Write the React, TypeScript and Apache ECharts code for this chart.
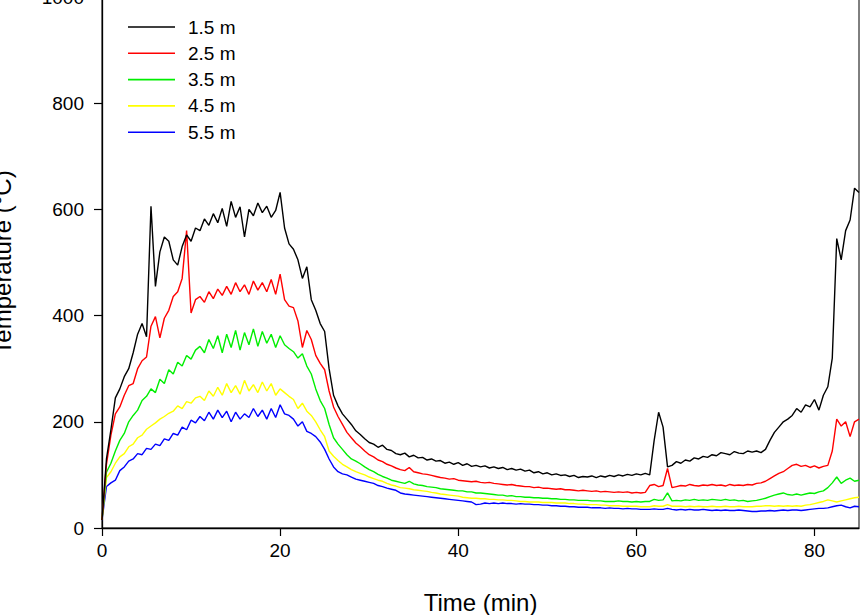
import React, { useEffect, useRef } from "react";
import * as echarts from "echarts";

// Sampling grid of the recorded time (min)
const timeStep = 0.5;

const seriesNames = ["1.5 m", "2.5 m", "3.5 m", "4.5 m", "5.5 m"];
const seriesColors = ["#000000", "#ff0000", "#00ee00", "#ffff00", "#0000ff"];

const xTickValues = [0, 20, 40, 60, 80];
const yTickValues = [0, 200, 400, 600, 800, 1000];

// Temperatures (°C), one value every 0.5 min from 0 to 85 min (20 values per row = 10 min)
const temp15 = [
  15, 130, 185, 245, 262, 285, 300, 330, 365, 385, 360, 606, 455, 520, 548, 540, 505, 495, 530, 552,
  540, 565, 560, 582, 570, 592, 575, 602, 568, 615, 585, 605, 548, 600, 588, 612, 594, 606, 585, 598,
  632, 565, 535, 525, 505, 470, 492, 430, 410, 385, 370, 300, 250, 230, 215, 205, 195, 183, 176, 168,
  161, 158, 152, 156, 148, 146, 140, 138, 141, 134, 137, 132, 133, 128, 130, 126, 127, 122, 124, 120,
  123, 118, 121, 116, 118, 115, 117, 113, 115, 112, 114, 110, 112, 109, 111, 107, 109, 104, 106, 102,
  104, 100, 102, 99, 100, 97, 99, 95, 97, 96, 98, 95, 98, 96, 99, 97, 100, 98, 101, 99,
  102, 100, 103, 100, 165, 218, 190, 115, 118, 125, 122, 128, 126, 132, 130, 135, 133, 138, 136, 142,
  140, 138, 144, 141, 140, 145, 143, 145, 142, 148, 165, 180, 190, 200, 205, 212, 225, 218, 232, 228,
  242, 222, 250, 266, 320, 545, 505, 560, 580, 640, 632,
];

const temp25 = [
  15, 120, 175, 215, 228, 250, 268, 272, 300, 315, 322, 380, 398, 358, 395, 410, 436, 445, 470, 560,
  405, 430, 436, 425, 445, 432, 450, 438, 455, 440, 462, 445, 458, 440, 465, 448, 462, 445, 468, 440,
  478, 430, 418, 415, 390, 340, 372, 355, 325, 310, 298, 258, 228, 210, 195, 180, 170, 160, 153, 145,
  138, 134, 128, 125, 120, 117, 113, 110, 108, 114, 106, 104, 102, 101, 99, 97, 95, 94, 92, 93,
  90, 89, 88, 87, 88, 86, 85, 86, 84, 83, 82, 81, 82, 80, 79, 78, 78, 76, 77, 75,
  75, 74, 73, 74, 72, 72, 71, 70, 71, 70, 69, 70, 68, 69, 68, 67, 68, 67, 68, 66,
  67, 66, 67, 80, 82, 78, 80, 112, 76, 78, 80, 79, 82, 80, 79, 81, 80, 82, 80, 81,
  79, 82, 80, 81, 80, 82, 81, 84, 85, 88, 93, 98, 103, 106, 112, 118, 120, 116, 118, 114,
  117, 113, 116, 118, 145, 205, 192, 200, 172, 200, 205,
];

const temp35 = [
  15, 105, 122, 145, 165, 178, 200, 212, 222, 240, 248, 262, 255, 280, 272, 298, 290, 312, 305, 325,
  318, 335, 342, 330, 355, 338, 362, 330, 365, 340, 372, 335, 368, 345, 375, 342, 370, 348, 365, 340,
  362, 345, 338, 332, 320, 328, 305, 290, 262, 240, 225, 195, 170, 158, 148, 138, 130, 126, 121, 115,
  110, 106, 101, 97, 94, 90, 88, 86, 84, 88, 83, 81, 80, 78, 77, 76, 74, 73, 72, 71,
  70, 70, 68, 68, 66, 66, 65, 64, 63, 62, 62, 60, 61, 59, 59, 58, 58, 57, 57, 56,
  56, 55, 55, 54, 54, 53, 53, 52, 52, 52, 51, 51, 51, 50, 50, 50, 51, 50, 50, 49,
  50, 49, 50, 50, 54, 52, 53, 66, 51, 52, 51, 53, 52, 54, 52, 53, 52, 54, 53, 52,
  54, 52, 53, 51, 52, 50, 51, 52, 54, 56, 59, 62, 64, 66, 63, 62, 64, 62, 64, 66,
  65, 68, 70, 76, 85, 96, 84, 90, 94, 88, 90,
];

const temp45 = [
  15, 95, 106, 122, 134, 140, 153, 158, 170, 175, 186, 192, 198, 205, 210, 216, 220, 230, 225, 238,
  235, 245, 248, 240, 258, 248, 265, 250, 272, 255, 268, 252, 278, 258, 270, 255, 275, 258, 272, 250,
  262, 255, 248, 242, 225, 235, 220, 212, 200, 185, 172, 145, 135, 127, 120, 115, 110, 106, 103, 100,
  96, 93, 90, 88, 84, 81, 79, 76, 75, 74, 72, 71, 70, 69, 67, 66, 64, 63, 62, 61,
  60, 58, 57, 56, 56, 55, 55, 54, 54, 53, 53, 52, 52, 51, 50, 50, 49, 49, 49, 48,
  48, 48, 47, 47, 47, 46, 46, 45, 45, 44, 44, 44, 43, 43, 42, 42, 42, 41, 41, 41,
  41, 40, 40, 40, 42, 41, 41, 44, 41, 41, 41, 40, 41, 40, 41, 40, 40, 41, 40, 40,
  41, 40, 40, 41, 40, 40, 40, 41, 41, 42, 42, 41, 42, 41, 42, 41, 42, 41, 43, 44,
  46, 48, 50, 53, 51, 49, 51, 53, 55, 57, 58,
];

const temp55 = [
  15, 78, 85, 90, 108, 115, 126, 130, 140, 138, 150, 148, 158, 155, 168, 165, 178, 175, 190, 185,
  203, 198, 210, 202, 218, 205, 222, 208, 220, 200, 218, 205, 215, 208, 225, 210, 222, 205, 225, 208,
  232, 215, 212, 205, 192, 200, 182, 178, 172, 162, 148, 130, 115, 106, 102, 100, 96, 92, 90, 88,
  86, 84, 80, 78, 75, 73, 71, 66, 64, 63, 62, 61, 60, 59, 58, 57, 56, 55, 54, 53,
  52, 51, 50, 49, 44, 45, 47, 46, 47, 46, 47, 46, 46, 45, 46, 45, 45, 44, 44, 43,
  43, 42, 42, 41, 41, 40, 40, 39, 39, 39, 38, 38, 38, 37, 38, 37, 37, 36, 37, 36,
  36, 35, 35, 35, 36, 35, 35, 37, 35, 34, 35, 34, 35, 34, 34, 35, 34, 33, 34, 33,
  34, 33, 33, 34, 33, 32, 31, 31, 32, 32, 33, 32, 33, 34, 33, 34, 34, 33, 34, 35,
  36, 37, 37, 38, 40, 42, 43, 40, 38, 41, 40,
];

const allTemps = [temp15, temp25, temp35, temp45, temp55];
const times = temp15.map((_, i) => i * timeStep);

const FONT = "'Liberation Sans', Arial, Helvetica, sans-serif";

export default function App() {
  const ref = useRef<HTMLDivElement>(null);

  useEffect(() => {
    if (!ref.current) return;
    const chart = echarts.init(ref.current, null, { renderer: "svg" });

    const series = allTemps.map((vals, k) => ({
      name: seriesNames[k],
      type: "line",
      data: vals.map((v, i) => [times[i], v]),
      symbol: "none",
      showSymbol: false,
      lineStyle: { color: seriesColors[k], width: 1.4 },
      itemStyle: { color: seriesColors[k] },
      z: 10 - k,
    }));

    chart.setOption({
      animation: false,
      backgroundColor: "#ffffff",
      textStyle: { fontFamily: FONT },
      grid: {
        left: 102,
        right: 2,
        top: -3,
        bottom: 87,
        outerBoundsMode: "none",
        containLabel: false,
        show: true,
        borderColor: "#000",
        borderWidth: 1,
        backgroundColor: "transparent",
      },
      legend: {
        orient: "vertical",
        left: 128,
        top: 17,
        padding: 0,
        icon: "rect",
        itemWidth: 47,
        itemHeight: 1.6,
        itemGap: 6.3,
        data: seriesNames,
        textStyle: {
          fontSize: 19,
          lineHeight: 20,
          height: 20,
          color: "#000",
          fontFamily: FONT,
          padding: [0, 0, 0, 8],
        },
      },
      xAxis: {
        type: "value",
        min: xTickValues[0],
        max: 85,
        interval: 20,
        name: "Time (min)",
        nameLocation: "middle",
        nameGap: 62,
        nameTextStyle: { fontSize: 24, color: "#000", fontFamily: FONT },
        axisLine: { show: true, onZero: false, lineStyle: { color: "#000", width: 1.3 } },
        axisTick: { show: true, inside: false, length: 8, lineStyle: { color: "#000", width: 1.2 } },
        axisLabel: {
          fontSize: 19,
          color: "#000",
          fontFamily: FONT,
          margin: 13,
          showMaxLabel: false,
          formatter: (v: number) => (xTickValues.includes(v) ? String(v) : ""),
        },
        splitLine: { show: false },
      },
      yAxis: {
        type: "value",
        min: yTickValues[0],
        max: yTickValues[yTickValues.length - 1],
        interval: 200,
        name: "Temperature (°C)",
        nameLocation: "middle",
        nameGap: 88,
        nameRotate: 90,
        nameTextStyle: { fontSize: 24, color: "#000", fontFamily: FONT },
        axisLine: { show: true, onZero: false, lineStyle: { color: "#000", width: 1.3 } },
        axisTick: { show: true, inside: false, length: 8, lineStyle: { color: "#000", width: 1.2 } },
        axisLabel: {
          fontSize: 19,
          color: "#000",
          fontFamily: FONT,
          margin: 18,
          formatter: (v: number) => String(v),
        },
        splitLine: { show: false },
      },
      series,
    });

    return () => chart.dispose();
  }, []);

  return (
    <div
      ref={ref}
      style={{ position: "fixed", left: 0, top: 0, width: 861, height: 615, background: "#fff" }}
    />
  );
}
